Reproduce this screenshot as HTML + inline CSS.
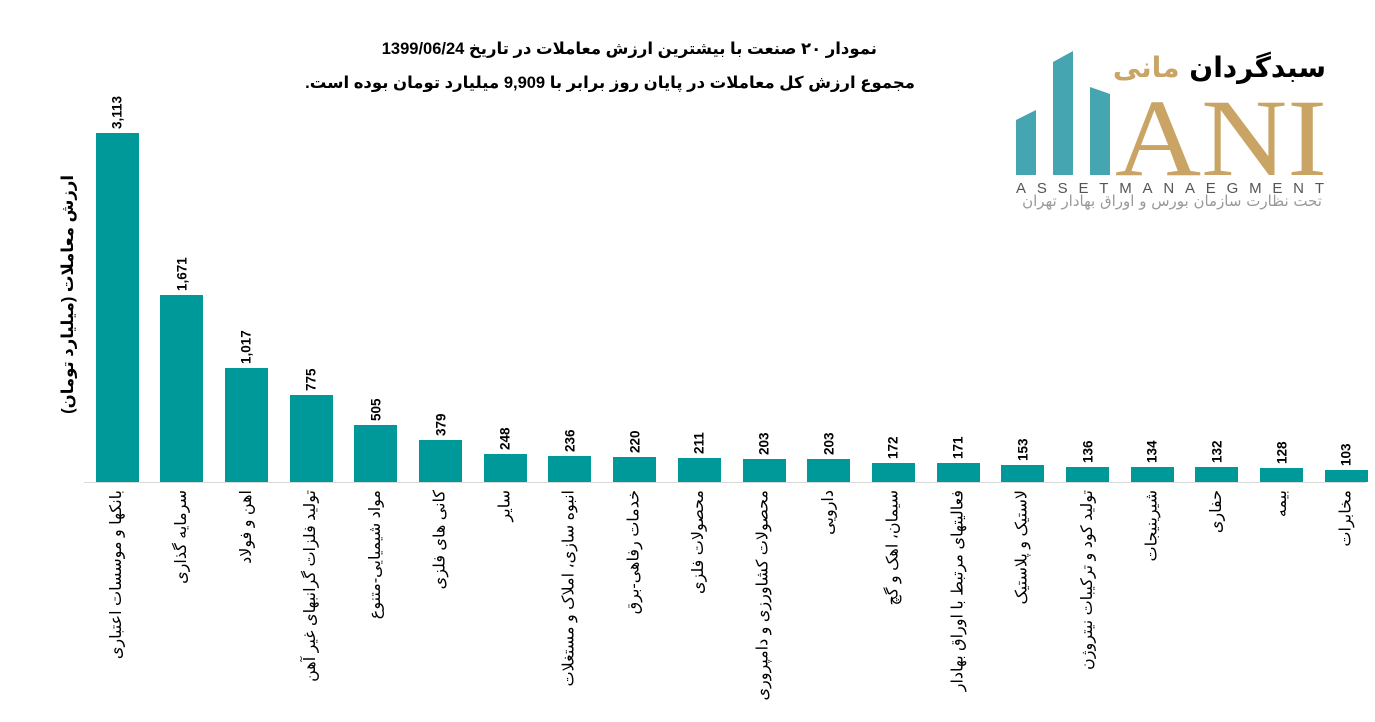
<!DOCTYPE html>
<html><head><meta charset="utf-8"><style>
body{margin:0;width:1375px;height:722px;background:#fff;position:relative;overflow:hidden;font-family:"Liberation Sans","DejaVu Sans",sans-serif}
.bar{position:absolute;background:#009999;width:43px}
.val{position:absolute;width:60px;text-align:center;font-weight:bold;font-size:13.5px;writing-mode:vertical-rl;transform:rotate(180deg);height:40px;display:flex;align-items:center;justify-content:flex-start}
.lab{position:absolute;direction:rtl;font-size:16px;line-height:20px;height:20px;color:#000;white-space:nowrap;transform-origin:100% 50%;transform:rotate(-90deg)}
.t{position:absolute;direction:rtl;font-weight:bold;font-size:16.5px;white-space:nowrap}
</style></head><body>
<div class="t" style="right:498px;top:39px">نمودار ۲۰ صنعت با بیشترین ارزش معاملات در تاریخ 1399/06/24</div>
<div class="t" style="right:460px;top:73px">مجموع ارزش  کل معاملات در پایان روز برابر با 9,909 میلیارد تومان بوده است.</div>
<div class="lab" style="right:1307px;top:165px;font-weight:bold;font-size:16.5px">ارزش معاملات (میلیارد تومان)</div>
<div style="position:absolute;left:84px;top:482px;width:1282px;height:1px;background:#d9d9d9"></div>
<svg style="position:absolute;left:1010px;top:40px" width="330" height="180">
<polygon points="6,80 26,70 26,135 6,135" fill="#45a5b0"/>
<polygon points="43,22 63,11 63,135 43,135" fill="#45a5b0"/>
<polygon points="80,47 100,54 100,135 80,135" fill="#45a5b0"/>
<text x="105" y="135" font-size="110" fill="#c9a465" font-family="Liberation Serif" textLength="212" lengthAdjust="spacingAndGlyphs">ANI</text>
<text x="6" y="153" font-size="15" fill="#555" textLength="308" lengthAdjust="spacing">ASSETMANAEGMENT</text>
</svg>
<div style="position:absolute;left:1090px;top:50px;width:236px;direction:rtl;font-size:28px;font-weight:bold;white-space:nowrap;font-family:'DejaVu Sans',sans-serif;line-height:36px">سبدگردان <span style="color:#c9a465">مانی</span></div>
<div style="position:absolute;left:1016px;top:192px;width:306px;direction:rtl;font-size:15px;color:#999;white-space:nowrap;font-family:'DejaVu Sans',sans-serif;text-align:right">تحت نظارت سازمان بورس و اوراق بهادار تهران</div>
<div id="c"></div>
<script>
var d=[[3113,"بانکها و موسسات اعتباری"],[1671,"سرمایه گذاری"],[1017,"اهن و فولاد"],[775,"تولید فلزات گرانبهای غیر آهن"],[505,"مواد شیمیایی-متنوع"],[379,"کانی های فلزی"],[248,"سایر"],[236,"انبوه سازی، املاک و مستغلات"],[220,"خدمات رفاهی-برق"],[211,"محصولات فلزی"],[203,"محصولات کشاورزی و دامپروری"],[203,"دارویی"],[172,"سیمان، اهک و گچ"],[171,"فعالیتهای مرتبط با اوراق بهادار"],[153,"لاستیک و پلاستیک"],[136,"تولید کود و ترکیبات نیتروژن"],[134,"شیرینیجات"],[132,"حفاری"],[128,"بیمه"],[103,"مخابرات"]];
var h="";d.forEach(function(e,i){var cx=117+i*64.7,bh=e[0]*0.1121,top=482-bh;
h+='<div class="bar" style="left:'+(cx-21.5)+'px;top:'+top+'px;height:'+bh+'px"></div>';
h+='<div class="val" style="left:'+(cx-30)+'px;top:'+(top-44)+'px">'+e[0].toLocaleString("en-US")+'</div>';
h+='<div class="lab" style="right:'+(1375-cx)+'px;top:480px">'+e[1]+'</div>';});
document.getElementById("c").innerHTML=h;
</script>
</body></html>
